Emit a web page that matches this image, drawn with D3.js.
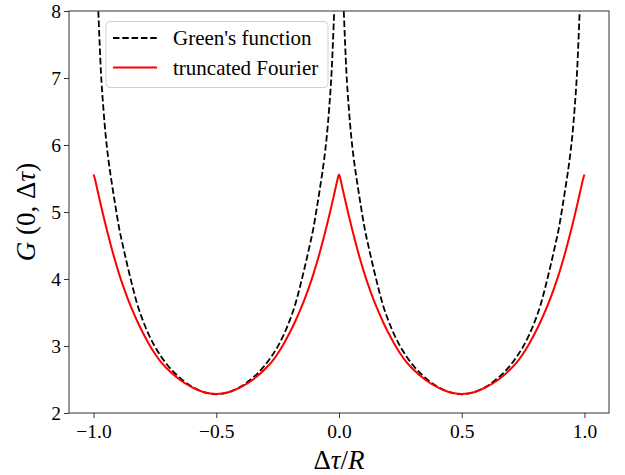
<!DOCTYPE html>
<html>
<head>
<meta charset="utf-8">
<script src="https://cdn.jsdelivr.net/npm/d3@7"></script>
<style>
body { margin: 0; background: #fff; }
svg text { font-family: "Liberation Serif", "Times New Roman", serif; fill: #000; }
</style>
</head>
<body>
<svg></svg>
<script>
// delta tau / R samples, denser near the singular points
var tau = [-1, -0.994, -0.987, -0.98, -0.97, -0.96, -0.95, -0.94, -0.925, -0.91, -0.895, -0.88, -0.86, -0.84, -0.82, -0.8,
    -0.775, -0.75, -0.725, -0.7, -0.65, -0.6, -0.55, -0.5, -0.45, -0.4, -0.35, -0.3, -0.275, -0.25, -0.225, -0.2,
    -0.18, -0.16, -0.14, -0.12, -0.105, -0.09, -0.075, -0.06, -0.05, -0.04, -0.03, -0.02, -0.013, -0.006,
    0,
    0.006, 0.013, 0.02, 0.03, 0.04, 0.05, 0.06, 0.075, 0.09, 0.105, 0.12, 0.14, 0.16, 0.18, 0.2,
    0.225, 0.25, 0.275, 0.3, 0.35, 0.4, 0.45, 0.5, 0.55, 0.6, 0.65, 0.7, 0.725, 0.75, 0.775, 0.8,
    0.82, 0.84, 0.86, 0.88, 0.895, 0.91, 0.925, 0.94, 0.95, 0.96, 0.97, 0.98, 0.987, 0.994, 1];

// Green's function (null where it diverges)
var green = [null, 9.8, 8.6, 7.95, 7.1, 6.55, 6.12, 5.8, 5.415, 5.07, 4.745, 4.49, 4.17, 3.87, 3.6, 3.39,
    3.17, 2.99, 2.845, 2.72, 2.53, 2.395, 2.31, 2.28, 2.31, 2.395, 2.53, 2.72, 2.845, 2.99, 3.17, 3.39,
    3.6, 3.87, 4.17, 4.49, 4.745, 5.07, 5.415, 5.8, 6.12, 6.55, 7.1, 7.95, 8.6, 9.8,
    null,
    9.8, 8.6, 7.95, 7.1, 6.55, 6.12, 5.8, 5.415, 5.07, 4.745, 4.49, 4.17, 3.87, 3.6, 3.39,
    3.17, 2.99, 2.845, 2.72, 2.53, 2.395, 2.31, 2.28, 2.31, 2.395, 2.53, 2.72, 2.845, 2.99, 3.17, 3.39,
    3.6, 3.87, 4.17, 4.49, 4.745, 5.07, 5.415, 5.8, 6.12, 6.55, 7.1, 7.95, 8.6, 9.8, null];

// truncated Fourier series
var fourier = [5.56, 5.49, 5.375, 5.26, 5.1, 4.945, 4.795, 4.65, 4.44, 4.245, 4.065, 3.9, 3.7, 3.52, 3.355, 3.205,
    3.035, 2.885, 2.76, 2.66, 2.5, 2.385, 2.31, 2.285, 2.31, 2.385, 2.5, 2.66, 2.76, 2.885, 3.035, 3.205,
    3.355, 3.52, 3.7, 3.9, 4.065, 4.245, 4.44, 4.65, 4.795, 4.945, 5.1, 5.26, 5.375, 5.49,
    5.56,
    5.49, 5.375, 5.26, 5.1, 4.945, 4.795, 4.65, 4.44, 4.245, 4.065, 3.9, 3.7, 3.52, 3.355, 3.205,
    3.035, 2.885, 2.76, 2.66, 2.5, 2.385, 2.31, 2.285, 2.31, 2.385, 2.5, 2.66, 2.76, 2.885, 3.035, 3.205,
    3.355, 3.52, 3.7, 3.9, 4.065, 4.245, 4.44, 4.65, 4.795, 4.945, 5.1, 5.26, 5.375, 5.49, 5.56];

var xTicks = [-1.0, -0.5, 0.0, 0.5, 1.0];
var yTicks = [2, 3, 4, 5, 6, 7, 8];

var margin = {top: 11, right: 16, bottom: 62, left: 69},
    width = 625 - margin.left - margin.right,
    height = 475 - margin.top - margin.bottom;

var svg = d3.select("svg")
    .attr("width", 625)
    .attr("height", 475),
    g = svg.append("g").attr("transform", "translate(" + margin.left + "," + margin.top + ")");

var xScale = d3.scaleLinear().domain([-1.1, 1.1]).range([0, width]);
var yScale = d3.scaleLinear().domain([2, 8]).range([height, 0]);

g.append("clipPath").attr("id", "plot-clip")
    .append("rect").attr("width", width).attr("height", height);

function series(values) {
    return tau.map(function(t, i) { return [t, values[i]]; });
}

var line = d3.line()
    .defined(function(d) { return d[1] != null; })
    .x(function(d) { return xScale(d[0]); })
    .y(function(d) { return yScale(d[1]); })
    .curve(d3.curveMonotoneX);

g.append("path")
    .datum(series(green))
    .attr("clip-path", "url(#plot-clip)")
    .attr("fill", "none")
    .attr("stroke", "#000")
    .attr("stroke-width", 1.8)
    .attr("stroke-dasharray", "6.5,2.8")
    .attr("d", line);

g.append("path")
    .datum(series(fourier))
    .attr("clip-path", "url(#plot-clip)")
    .attr("fill", "none")
    .attr("stroke", "#ff0000")
    .attr("stroke-width", 2)
    .attr("d", line);

// axes
var xAxis = g.append("g")
    .attr("transform", "translate(0," + height + ")")
    .call(d3.axisBottom(xScale).tickValues(xTicks).tickFormat(d3.format(".1f"))
        .tickSize(5).tickSizeOuter(0).tickPadding(6));

var yAxis = g.append("g")
    .call(d3.axisLeft(yScale).tickValues(yTicks).tickFormat(d3.format("d"))
        .tickSize(5).tickSizeOuter(0).tickPadding(3));

[xAxis, yAxis].forEach(function(a) {
    a.attr("font-family", null);
    a.select(".domain").remove();
    a.selectAll(".tick line").attr("stroke", "#333").attr("stroke-width", 1);
    a.selectAll(".tick text")
        .attr("font-size", 19.5)
        .attr("fill", "#000");
});
yAxis.selectAll(".tick text").attr("dy", "0.34em");

g.append("rect")
    .attr("width", width)
    .attr("height", height)
    .attr("fill", "none")
    .attr("stroke", "#333")
    .attr("stroke-width", 1);

// legend
var legend = g.append("g").attr("transform", "translate(" + (106 - margin.left) + "," + (21.5 - margin.top) + ")");
legend.append("rect")
    .attr("width", 222)
    .attr("height", 66)
    .attr("rx", 4)
    .attr("fill", "#fff")
    .attr("fill-opacity", 0.8)
    .attr("stroke", "#d0d0d0");

var entries = [
    {name: "Green's function", color: "#000", dash: "6.5,2.8"},
    {name: "truncated Fourier", color: "#ff0000", dash: null}
];
entries.forEach(function(e, i) {
    var y = 16.5 + i * 29.5;
    legend.append("line")
        .attr("x1", 7).attr("x2", 51)
        .attr("y1", y).attr("y2", y)
        .attr("stroke", e.color)
        .attr("stroke-width", e.dash ? 1.8 : 2)
        .attr("stroke-dasharray", e.dash);
    legend.append("text")
        .attr("x", 67)
        .attr("y", y + 7)
        .attr("font-size", 21)
        .text(e.name);
});

// axis labels
var xl = svg.append("text")
    .attr("x", margin.left + width / 2)
    .attr("y", 469)
    .attr("text-anchor", "middle")
    .attr("font-size", 27);
xl.append("tspan").text("Δ");
xl.append("tspan").attr("font-style", "italic").text("τ");
xl.append("tspan").text("/");
xl.append("tspan").attr("font-style", "italic").text("R");

var yl = svg.append("text")
    .attr("transform", "translate(35," + (margin.top + height / 2) + ") rotate(-90)")
    .attr("text-anchor", "middle")
    .attr("font-size", 27);
yl.append("tspan").attr("font-style", "italic").text("G");
yl.append("tspan").text(" (0, Δ");
yl.append("tspan").attr("font-style", "italic").text("τ");
yl.append("tspan").text(")");
</script>
</body>
</html>
